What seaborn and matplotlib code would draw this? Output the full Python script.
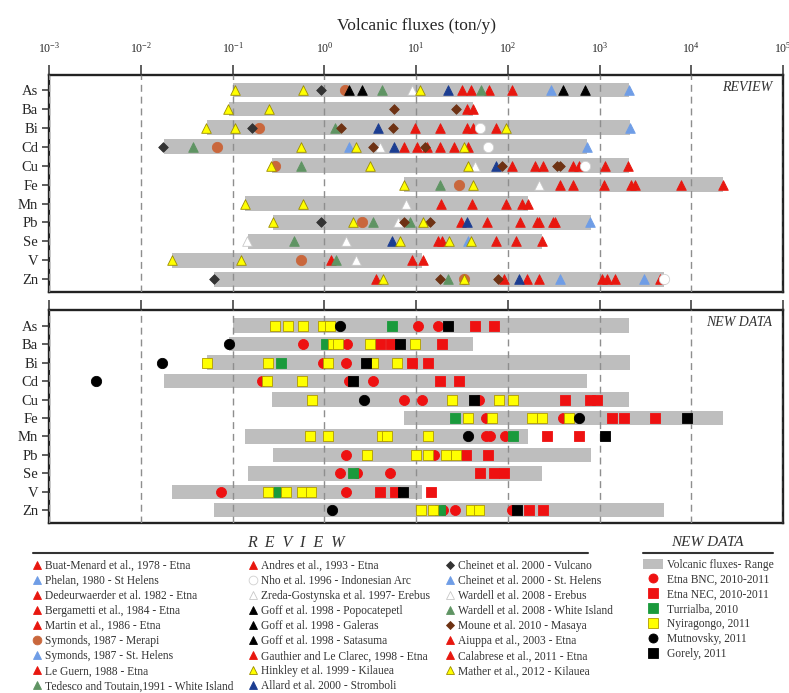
import numpy as np
import pandas as pd
import matplotlib
matplotlib.use("Agg")
import matplotlib.pyplot as plt
import seaborn as sns
from matplotlib.lines import Line2D
from matplotlib.patches import Patch
from matplotlib.ticker import FixedLocator, LogFormatterSciNotation, NullLocator, NullFormatter

# ---------------- data ----------------
elements = ["As", "Ba", "Bi", "Cd", "Cu", "Fe", "Mn", "Pb", "Se", "V", "Zn"]
range_low = [0.10, 0.09, 0.052, 0.0178, 0.266, 7.4, 0.136, 0.278, 0.145, 0.022, 0.063]
range_high = [2070, 41.5, 2160, 728, 2070, 22100, 164, 803, 233, 11.7, 5070]

# REVIEW (literature) values, grouped by marker style
red_triangles = {
    "As": [31.5, 40, 63, 111], "Ba": [36, 41.5], "Bi": [9.6, 18, 36, 42, 74],
    "Cd": [7.3, 10.2, 13, 18, 26, 37], "Cu": [111, 199, 241, 512, 590, 1150, 2040],
    "Fe": [372, 507, 1107, 2214, 2450, 7780, 22000], "Mn": [18.6, 40.8, 96, 142, 165],
    "Pb": [30.7, 59, 134, 207, 221, 307, 328], "Se": [17.5, 19, 74, 122, 235],
    "V": [1.17, 9, 11.8], "Zn": [3.66, 90, 161, 221, 1060, 1220, 1480, 4520],
}
lightblue_triangles = {"As": [297, 2070], "Bi": [2160], "Cd": [1.83, 728], "Pb": [791],
                       "Se": [37], "Zn": [366, 3070]}
darkblue_triangles = {"As": [22.5], "Bi": [3.8], "Cd": [5.7], "Cu": [75], "Pb": [35.7],
                      "Se": [5.5], "Zn": [131]}
green_triangles = {"As": [4.2, 51], "Bi": [1.31], "Cd": [0.037], "Cu": [0.55], "Fe": [18.3],
                   "Pb": [3.4, 8.6], "Se": [0.47], "V": [1.34], "Zn": [22]}
orange_circles = {"As": [1.66], "Bi": [0.195], "Cd": [0.067], "Cu": [0.29], "Fe": [29],
                  "Pb": [2.6], "V": [0.55], "Zn": [33]}
white_circles = {"Bi": [50], "Cd": [60], "Cu": [698], "Zn": [5000]}
white_triangles = {"As": [9.0], "Cd": [4.0], "Cu": [44], "Fe": [221], "Mn": [7.8],
                   "Pb": [6.3], "Se": [0.142, 1.71], "V": [2.2]}
black_triangles = {"As": [1.83, 2.6, 398, 698]}
yellow_triangles = {
    "As": [0.105, 0.59, 11], "Ba": [0.088, 0.247], "Bi": [0.051, 0.105, 96],
    "Cd": [0.56, 2.2, 33], "Cu": [0.26, 3.15, 37], "Fe": [7.4, 41.5], "Mn": [0.136, 0.59],
    "Pb": [0.273, 2.04, 12], "Se": [6.7, 23, 39.5], "V": [0.0218, 0.122], "Zn": [4.4, 33],
}
gray_diamonds = {"As": [0.91], "Bi": [0.162], "Cd": [0.0175], "Pb": [0.91], "Zn": [0.063]}
brown_diamonds = {"Ba": [5.8, 27], "Bi": [1.5, 5.6], "Cd": [3.4, 12.5], "Cu": [86, 343, 373],
                  "Pb": [7.4, 14.2], "Zn": [18.3, 79]}

# NEW DATA
etna_bnc = {"As": [10.4, 17.1], "Ba": [0.59, 1.78], "Bi": [0.96, 1.72], "Cd": [0.207, 1.87, 3.42],
            "Cu": [7.3, 11.5, 48], "Fe": [58, 398], "Mn": [58, 64, 93.5], "Pb": [1.71, 15.5],
            "Se": [1.46, 2.29, 5.2], "V": [0.0746, 1.72], "Zn": [19.4, 26.2, 111]}
etna_nec = {"As": [44, 70], "Ba": [4.0, 5.3, 19], "Bi": [9.0, 13.3], "Cd": [18, 29],
            "Cu": [415, 778, 935], "Fe": [1365, 1830, 4050], "Mn": [266, 600], "Pb": [35, 60],
            "Se": [50, 70, 90], "V": [4.0, 5.9, 14.5], "Zn": [171, 239]}
turrialba = {"As": [5.4], "Ba": [1.04], "Bi": [0.34], "Fe": [26.6], "Mn": [115], "Se": [2.04],
             "V": [0.307], "Zn": [18.3]}
nyiragongo = {"As": [0.29, 0.40, 0.58, 0.96, 1.15], "Ba": [1.23, 1.39, 3.15, 9.75],
              "Bi": [0.052, 0.245, 1.1, 3.4, 6.2], "Cd": [0.235, 0.575], "Cu": [0.73, 24.5, 80, 115],
              "Fe": [36.3, 67, 183, 235, 459], "Mn": [0.70, 1.09, 4.2, 4.8, 13.6],
              "Pb": [2.9, 10, 13.6, 21, 27.3], "V": [0.245, 0.378, 0.575, 0.71],
              "Zn": [11.3, 15.2, 40, 48.7]}
mutnovsky = {"As": [1.48], "Ba": [0.092], "Bi": [0.0168], "Cd": [0.0032], "Cu": [2.73],
             "Fe": [590], "Mn": [37], "Zn": [1.22]}
gorely = {"As": [22.5], "Ba": [6.6], "Bi": [2.85], "Cd": [2.04], "Cu": [43], "Fe": [8970],
          "Mn": [1135], "V": [7.2], "Zn": [125]}

decades = [-3, -2, -1, 0, 1, 2, 3, 4, 5]

review_labels = [
    "Buat-Menard et al., 1978 - Etna", "Phelan, 1980 - St Helens",
    "Dedeurwaerder et al. 1982 - Etna", "Bergametti et al., 1984 - Etna",
    "Martin et al., 1986 - Etna", "Symonds, 1987 - Merapi", "Symonds, 1987 - St. Helens",
    "Le Guern, 1988 - Etna", "Tedesco and Toutain,1991 - White Island",
    "Andres et al., 1993 - Etna", "Nho et al. 1996 - Indonesian Arc",
    "Zreda-Gostynska et al. 1997- Erebus", "Goff et al. 1998 - Popocatepetl",
    "Goff et al. 1998 - Galeras", "Goff et al. 1998 - Satasuma",
    "Gauthier and Le Clarec, 1998 - Etna", "Hinkley et al. 1999 - Kilauea",
    "Allard et al. 2000 - Stromboli",
    "Cheinet et al. 2000 - Vulcano", "Cheinet et al. 2000 - St. Helens",
    "Wardell et al. 2008 - Erebus", "Wardell et al. 2008 - White Island",
    "Moune et al. 2010 - Masaya", "Aiuppa et al., 2003 - Etna",
    "Calabrese et al., 2011 - Etna", "Mather et al., 2012 - Kilauea",
]
review_label_styles = [
    "red_t", "lblue_t", "red_t", "red_t", "red_t", "orange_c", "lblue_t", "red_t", "green_t",
    "red_t", "white_c", "white_t", "black_t", "black_t", "black_t", "red_t", "yellow_t", "dblue_t",
    "gray_d", "lblue_t", "white_t", "green_t", "brown_d", "red_t", "red_t", "yellow_t",
]
new_labels = ["Volcanic fluxes- Range", "Etna BNC, 2010-2011", "Etna NEC, 2010-2011",
              "Turrialba, 2010", "Nyiragongo, 2011", "Mutnovsky, 2011", "Gorely, 2011"]

# ---------------- styles ----------------
RED = "#e8170f"
styles = {
    "orange_c": dict(marker="o", fc="#c9673c", ec="#c9673c", s=55),
    "red_t": dict(marker="^", fc=RED, ec=RED, s=48),
    "lblue_t": dict(marker="^", fc="#6f9de6", ec="#6f9de6", s=48),
    "green_t": dict(marker="^", fc="#5f9463", ec="#5f9463", s=48),
    "dblue_t": dict(marker="^", fc="#1b3d91", ec="#1b3d91", s=48),
    "white_t": dict(marker="^", fc="white", ec="#c8c8c8", s=48),
    "black_t": dict(marker="^", fc="black", ec="black", s=48),
    "brown_d": dict(marker="D", fc="#6e3213", ec="#6e3213", s=24),
    "gray_d": dict(marker="D", fc="#333333", ec="#333333", s=24),
    "white_c": dict(marker="o", fc="white", ec="#d0d0d0", s=55),
    "yellow_t": dict(marker="^", fc="#ffff00", ec="#9c8c00", s=48),
    "bnc": dict(marker="o", fc="#ee1111", ec="#ee1111", s=52),
    "nec": dict(marker="s", fc="#ee1111", ec="#ee1111", s=42),
    "turr": dict(marker="s", fc="#1a9a3c", ec="#1a9a3c", s=42),
    "nyir": dict(marker="s", fc="#ffff00", ec="#b09a00", s=42),
    "mutn": dict(marker="o", fc="black", ec="black", s=55),
    "gore": dict(marker="s", fc="black", ec="black", s=42),
}
review_groups = [("orange_c", orange_circles), ("red_t", red_triangles),
                 ("lblue_t", lightblue_triangles), ("green_t", green_triangles),
                 ("dblue_t", darkblue_triangles), ("white_t", white_triangles),
                 ("black_t", black_triangles), ("brown_d", brown_diamonds),
                 ("gray_d", gray_diamonds), ("white_c", white_circles),
                 ("yellow_t", yellow_triangles)]
new_groups = [("bnc", etna_bnc), ("nec", etna_nec), ("turr", turrialba),
              ("nyir", nyiragongo), ("mutn", mutnovsky), ("gore", gorely)]

pos = {el: i for i, el in enumerate(elements)}


def to_long(d):
    rows = [(el, v) for el, vals in d.items() for v in vals]
    df = pd.DataFrame(rows, columns=["element", "flux"])
    df["pos"] = df["element"].map(pos)
    return df


# ---------------- figure ----------------
sns.set_style("white")
plt.rcParams["font.family"] = ["Liberation Serif", "DejaVu Serif"]
plt.rcParams["mathtext.default"] = "regular"

fig = plt.figure(figsize=(7.89, 6.93), dpi=100)
ax1 = fig.add_axes([0.06248, 0.5791, 0.92992, 0.3131])
ax2 = fig.add_axes([0.06248, 0.2453, 0.92992, 0.3074])

rng = pd.DataFrame({"element": elements, "low": range_low, "high": range_high})
rng["pos"] = rng["element"].map(pos)
BAR = "#bebebe"

for ax, groups, ylim, tag in [(ax1, review_groups, (10.655, -0.808), "REVIEW"),
                              (ax2, new_groups, (10.69, -0.85), "NEW DATA")]:
    ax.set_xscale("log")
    ax.barh(rng["pos"], rng["high"] - rng["low"], left=rng["low"], height=0.78,
            color=BAR, zorder=1, linewidth=0)
    for key, d in groups:
        st = styles[key]
        sns.scatterplot(data=to_long(d), x="flux", y="pos", ax=ax, marker=st["marker"],
                        s=st["s"], color=st["fc"], edgecolor=st["ec"], linewidth=0.6,
                        zorder=3, legend=False)
    ax.set_xlim(1e-3, 1e5)
    ax.set_ylim(*ylim)
    ax.set_yticks(range(len(elements)))
    ax.set_yticklabels(elements, fontsize=10.5)
    ax.set_xlabel("")
    ax.set_ylabel("")
    ax.xaxis.tick_top()
    ax.xaxis.set_major_locator(FixedLocator([10.0 ** d for d in decades]))
    ax.xaxis.set_minor_locator(NullLocator())
    ax.tick_params(axis="x", which="major", direction="out", length=7, width=1.1,
                   color="#333333", pad=7, labelsize=8.5, top=True, bottom=False)
    ax.tick_params(axis="y", direction="out", length=5, width=1.1, color="#333333",
                   pad=3, left=True)
    ax.set_axisbelow(False)
    ax.xaxis.grid(True, linestyle=(0, (5, 3.5)), color="#8e8e8e", linewidth=1.0)
    ax.yaxis.grid(False)
    for sp in ax.spines.values():
        sp.set_linewidth(1.7)
        sp.set_color("#222222")
    ax.text(0.985, 0.94, tag, transform=ax.transAxes, ha="right", va="center",
            fontsize=10, style="italic", color="#333333")

ax1.xaxis.set_major_formatter(LogFormatterSciNotation())
ax2.xaxis.set_major_formatter(NullFormatter())
ax1.xaxis.set_label_position("top")
ax1.set_xlabel("Volcanic fluxes (ton/y)", fontsize=12.5, labelpad=8)

# ---------------- legends ----------------
LFS = 8.3
review_handles = []
for key in review_label_styles:
    st = styles[key]
    ms = 6.3 if st["marker"] != "D" else 4.5
    review_handles.append(Line2D([], [], linestyle="none", marker=st["marker"], markersize=ms,
                                 markerfacecolor=st["fc"], markeredgecolor=st["ec"],
                                 markeredgewidth=0.6))
leg1 = fig.legend(review_handles, review_labels, loc="upper left",
                  bbox_to_anchor=(0.0415, 0.1925), bbox_transform=fig.transFigure,
                  ncol=3, frameon=False, fontsize=LFS, handlelength=0.75, handletextpad=0.35,
                  columnspacing=1.3, labelspacing=0.27, borderaxespad=0, borderpad=0)
for t in leg1.get_texts():
    t.set_color("#333333")

new_handles = [Patch(facecolor=BAR, edgecolor="none")]
for key in ["bnc", "nec", "turr", "nyir", "mutn", "gore"]:
    st = styles[key]
    new_handles.append(Line2D([], [], linestyle="none", marker=st["marker"], markersize=6.5,
                              markerfacecolor=st["fc"], markeredgecolor=st["ec"],
                              markeredgewidth=0.6))
leg2 = fig.legend(new_handles, new_labels, loc="upper left",
                  bbox_to_anchor=(0.815, 0.1935), bbox_transform=fig.transFigure,
                  frameon=False, fontsize=LFS, handlelength=1.73, handleheight=0.95,
                  handletextpad=0.35, labelspacing=0.25, borderaxespad=0, borderpad=0)
for t in leg2.get_texts():
    t.set_color("#333333")

fig.text(296 / 789, 1 - 543 / 693, "R  E  V  I  E  W", ha="center", va="center",
         fontsize=11.5, style="italic", color="#333333")
fig.add_artist(Line2D([33 / 789, 588 / 789], [1 - 552.7 / 693] * 2,
                      transform=fig.transFigure, color="#333333", lw=1.5))
fig.text(707 / 789, 1 - 543 / 693, "NEW DATA", ha="center", va="center",
         fontsize=11, style="italic", color="#333333")
fig.add_artist(Line2D([643 / 789, 773 / 789], [1 - 553 / 693] * 2,
                      transform=fig.transFigure, color="#333333", lw=1.5))

fig.savefig("out.png", dpi=100)
